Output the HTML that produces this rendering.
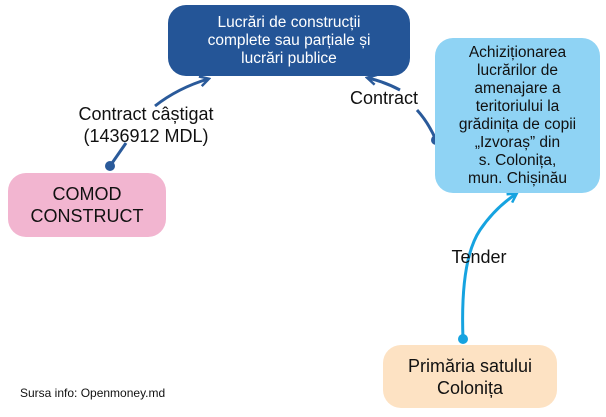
<!DOCTYPE html>
<html><head><meta charset="utf-8"><style>
body{margin:0;width:606px;height:417px;background:#fff;position:relative;overflow:hidden;font-family:"Liberation Sans","DejaVu Sans",sans-serif;}
.b{position:absolute;display:flex;align-items:center;justify-content:center;text-align:center;box-sizing:border-box;}
.t{position:absolute;color:#111;text-align:center;white-space:nowrap;}
</style></head><body>
<svg width="606" height="417" style="position:absolute;left:0;top:0">
<defs>
<marker id="ad" markerWidth="12" markerHeight="12" refX="9" refY="6" orient="auto" markerUnits="userSpaceOnUse"><path d="M1,1 L10,6 L1,11" fill="none" stroke="#2a5a9a" stroke-width="2.5"/></marker>
<marker id="al" markerWidth="12" markerHeight="12" refX="9" refY="6" orient="auto" markerUnits="userSpaceOnUse"><path d="M1,1 L10,6 L1,11" fill="none" stroke="#16a3e0" stroke-width="2.5"/></marker>
</defs>
<path d="M110,166 L126,143" fill="none" stroke="#2a5a9a" stroke-width="3"/>
<path d="M155,106 Q178,88 208,79" fill="none" stroke="#2a5a9a" stroke-width="3" marker-end="url(#ad)"/>
<circle cx="110" cy="166" r="5" fill="#2a5a9a"/>
<path d="M436,140 Q428,122 417,110" fill="none" stroke="#2a5a9a" stroke-width="3"/>
<path d="M400,90 Q385,82 368,78" fill="none" stroke="#2a5a9a" stroke-width="3" marker-end="url(#ad)"/>
<circle cx="436" cy="140" r="5" fill="#2a5a9a"/>
<path d="M463,339 Q460,260 480,230 Q495,208 516,194" fill="none" stroke="#16a3e0" stroke-width="3" marker-end="url(#al)"/>
<circle cx="463" cy="339" r="5" fill="#16a3e0"/>
</svg>
<div class="b" style="left:168px;top:5px;width:242px;height:71px;background:#245597;border-radius:18px;color:#fff;font-size:15.5px;line-height:18px;">Lucrări de construcții<br>complete sau parțiale și<br>lucrări publice</div>
<div class="b" style="left:435px;top:38px;width:165px;height:155px;background:#8fd3f4;border-radius:18px;color:#111;font-size:15.5px;line-height:18px;">Achiziționarea<br>lucrărilor de<br>amenajare a<br>teritoriului la<br>grădinița de copii<br>„Izvoraș” din<br>s. Colonița,<br>mun. Chișinău</div>
<div class="b" style="left:8px;top:173px;width:158px;height:64px;background:#f2b5d0;border-radius:18px;color:#111;font-size:18px;line-height:22px;">COMOD<br>CONSTRUCT</div>
<div class="b" style="left:383px;top:345px;width:174px;height:63px;background:#fde2c3;border-radius:18px;color:#111;font-size:18px;line-height:22px;">Primăria satului<br>Colonița</div>
<div class="t" style="left:70px;top:103px;width:152px;font-size:18px;line-height:22px;">Contract câștigat<br>(1436912 MDL)</div>
<div class="t" style="left:345px;top:87px;width:78px;font-size:18px;line-height:22px;">Contract</div>
<div class="t" style="left:446px;top:246px;width:66px;font-size:18px;line-height:22px;">Tender</div>
<div class="t" style="left:20px;top:386px;font-size:12px;">Sursa info: Openmoney.md</div>
</body></html>
